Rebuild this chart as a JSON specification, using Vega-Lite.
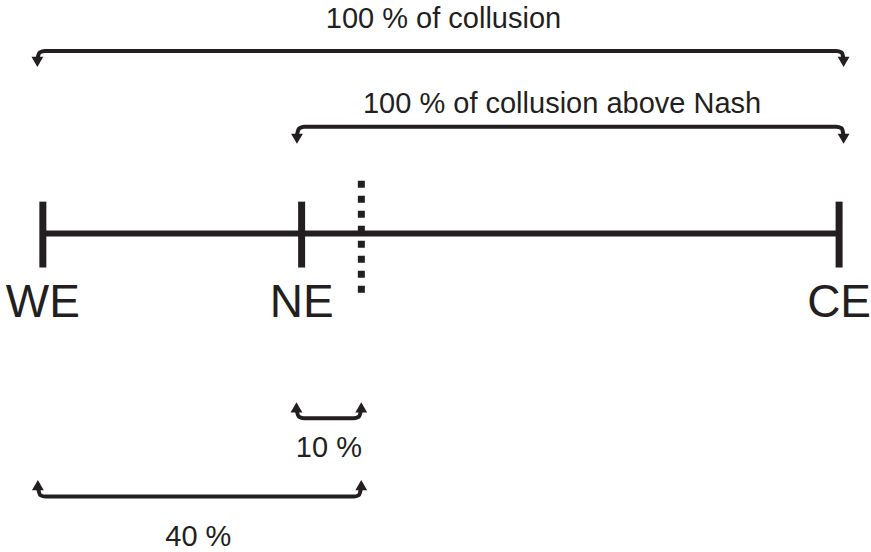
{
  "$schema": "https://vega.github.io/schema/vega-lite/v6.json",
  "width": 871,
  "height": 552,
  "autosize": {"type": "fit", "contains": "padding"},
  "padding": 0,
  "background": "white",
  "config": {"view": {"stroke": null}, "axis": {"disable": true}},
  "datasets": {
    "axisline": [{"x": 0, "x2": 1, "y": 234}],
    "ticks": [
      {"label": "WE", "x": 0, "y": 202, "y2": 268},
      {"label": "NE", "x": 0.325, "y": 202, "y2": 268},
      {"label": "CE", "x": 1, "y": 202, "y2": 268}
    ],
    "dotted": [{"x": 0.4, "y": 181, "y2": 294}],
    "brackets": [
      {"id": "b1", "x": -0.00688, "y": 61},
      {"id": "b1", "x": -0.00626, "y": 57},
      {"id": "b1", "x": -0.00375, "y": 52.5},
      {"id": "b1", "x": 0.0025, "y": 51},
      {"id": "b1", "x": 0.99625, "y": 51},
      {"id": "b1", "x": 1.00313, "y": 52.5},
      {"id": "b1", "x": 1.005, "y": 57},
      {"id": "b1", "x": 1.00563, "y": 61},
      {"id": "b2", "x": 0.31915, "y": 137},
      {"id": "b2", "x": 0.31977, "y": 133},
      {"id": "b2", "x": 0.32228, "y": 128.5},
      {"id": "b2", "x": 0.32854, "y": 127},
      {"id": "b2", "x": 0.99625, "y": 127},
      {"id": "b2", "x": 1.00313, "y": 128.5},
      {"id": "b2", "x": 1.005, "y": 133},
      {"id": "b2", "x": 1.00563, "y": 137},
      {"id": "b3", "x": 0.31852, "y": 409},
      {"id": "b3", "x": 0.31915, "y": 412},
      {"id": "b3", "x": 0.32165, "y": 417.5},
      {"id": "b3", "x": 0.32791, "y": 419},
      {"id": "b3", "x": 0.39049, "y": 419},
      {"id": "b3", "x": 0.39675, "y": 417.5},
      {"id": "b3", "x": 0.39925, "y": 412},
      {"id": "b3", "x": 0.39987, "y": 409},
      {"id": "b4", "x": -0.00626, "y": 487},
      {"id": "b4", "x": -0.00563, "y": 490},
      {"id": "b4", "x": -0.00313, "y": 496},
      {"id": "b4", "x": 0.00313, "y": 497.5},
      {"id": "b4", "x": 0.39049, "y": 497.5},
      {"id": "b4", "x": 0.39675, "y": 496},
      {"id": "b4", "x": 0.39925, "y": 490},
      {"id": "b4", "x": 0.39987, "y": 487}
    ],
    "heads": [
      {"x": -0.00688, "y": 62, "dir": "down"},
      {"x": 1.00563, "y": 62, "dir": "down"},
      {"x": 0.31915, "y": 139, "dir": "down"},
      {"x": 1.00563, "y": 139, "dir": "down"},
      {"x": 0.31852, "y": 408, "dir": "up"},
      {"x": 0.39987, "y": 408, "dir": "up"},
      {"x": -0.00626, "y": 486, "dir": "up"},
      {"x": 0.39987, "y": 486, "dir": "up"}
    ],
    "notes": [
      {"text": "100 % of collusion", "x": 0.50313, "y": 28},
      {"text": "100 % of collusion above Nash", "x": 0.65207, "y": 113},
      {"text": "10 %", "x": 0.3592, "y": 458},
      {"text": "40 %", "x": 0.19524, "y": 547}
    ]
  },
  "encoding": {
    "x": {"field": "x", "type": "quantitative", "scale": {"domain": [-0.05382, 1.0363], "nice": false, "zero": false}, "axis": null},
    "y": {"field": "y", "type": "quantitative", "scale": {"domain": [0, 552], "reverse": true, "nice": false, "zero": false}, "axis": null}
  },
  "layer": [
    {
      "data": {"name": "axisline"},
      "mark": {"type": "rule", "color": "#231f20", "strokeWidth": 6, "strokeCap": "butt"},
      "encoding": {"x2": {"field": "x2"}}
    },
    {
      "data": {"name": "ticks"},
      "mark": {"type": "rule", "color": "#231f20", "strokeWidth": 7, "strokeCap": "butt"},
      "encoding": {"y2": {"field": "y2"}}
    },
    {
      "data": {"name": "dotted"},
      "mark": {"type": "rule", "color": "#231f20", "strokeWidth": 7, "strokeCap": "butt", "strokeDash": [7, 8]},
      "encoding": {"y2": {"field": "y2"}}
    },
    {
      "data": {"name": "brackets"},
      "mark": {"type": "line", "color": "#231f20", "strokeWidth": 4, "interpolate": "monotone", "strokeCap": "butt"},
      "encoding": {"detail": {"field": "id"}}
    },
    {
      "data": {"name": "heads"},
      "mark": {"type": "point", "filled": true, "color": "#231f20", "size": 140, "opacity": 1},
      "encoding": {
        "shape": {"field": "dir", "type": "nominal", "scale": {"domain": ["down", "up"], "range": ["triangle-down", "triangle-up"]}, "legend": null}
      }
    },
    {
      "data": {"name": "ticks"},
      "mark": {"type": "text", "font": "Liberation Sans", "fontSize": 46, "color": "#231f20", "baseline": "alphabetic", "align": "center"},
      "encoding": {"y": {"datum": 318}, "text": {"field": "label"}}
    },
    {
      "data": {"name": "notes"},
      "mark": {"type": "text", "font": "Liberation Sans", "fontSize": 29, "color": "#231f20", "baseline": "alphabetic", "align": "center"},
      "encoding": {"text": {"field": "text"}}
    }
  ]
}
